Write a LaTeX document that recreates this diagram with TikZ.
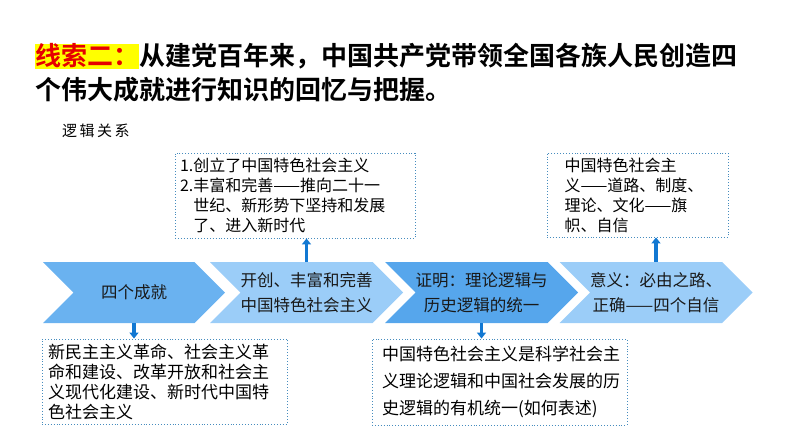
\documentclass[tikz,border=0pt]{standalone}
\usepackage{fontspec}
\setmainfont{Noto Sans CJK SC}[BoldFont={Noto Sans CJK SC Bold}]
\usepackage{xcolor}
\usepackage{tikz}
\usetikzlibrary{shapes, shapes.symbols, arrows.meta, positioning, calc}

\definecolor{chevA}{RGB}{106,178,240}
\definecolor{chevB}{RGB}{155,205,248}
\definecolor{chevC}{RGB}{86,166,236}
\definecolor{noteline}{RGB}{70,140,190}
\definecolor{arrowblue}{RGB}{18,120,210}
\definecolor{titlered}{RGB}{230,0,0}
\definecolor{hlyellow}{RGB}{255,255,0}

\newcommand{\titlefont}{\fontsize{26pt}{33pt}\selectfont\bfseries}
\newcommand{\chevfont}{\fontsize{16.5pt}{25pt}\selectfont}
\newcommand{\notefont}{\fontsize{16pt}{20pt}\selectfont}
\newcommand{\lowfont}{\fontsize{17pt}{20pt}\selectfont}

\begin{document}
\begin{tikzpicture}[x=1pt, y=-1pt]
    \tikzstyle{chev} = [signal, signal from=west, signal to=east, signal pointer angle=90,
                        minimum width=182pt, minimum height=61pt, inner sep=0pt,
                        align=center, font=\chevfont, text={black!90}]
    \tikzstyle{note} = [rectangle, draw=noteline, dotted, line width=0.9pt, inner sep=0pt,
                        align=left]
    \tikzstyle{link} = [-{Triangle[length=6pt, width=9pt]}, line width=3.5pt, draw=arrowblue]

    \useasboundingbox (0,0) rectangle (794,447);

    % heading
    \node [anchor=west, fill=hlyellow, text=titlered, inner sep=0pt, minimum height=25pt,
           font=\titlefont] (tag) at (35,56) {线索二：};
    \node [right=0pt of tag, inner sep=0pt, font=\titlefont] (head1) {从建党百年来，中国共产党带领全国各族人民创造四};
    \node [anchor=west, inner sep=0pt, font=\titlefont] (head2) at (35,90) {个伟大成就进行知识的回忆与把握。};
    \node [anchor=west, inner sep=0pt, font=\fontsize{15pt}{15pt}\selectfont] (logic) at (62,131) {逻\,辑\,关\,系};

    % chevrons
    \node [chev, fill=chevA] (four) at (134,292.5) {四个成就};
    \node [chev, fill=chevB] (found) at (306.5,292.5) {开创、丰富和完善\\中国特色社会主义};
    \node [chev, fill=chevC] (proof) at (481.5,292.5) {证明：理论逻辑与\\历史逻辑的统一};
    \node [chev, fill=chevB] (mean) at (656,292.5) {意义：必由之路、\\正确——四个自信};

    % notes
    \node [note, minimum width=240pt, minimum height=85pt, text width=230pt, font=\notefont]
        (foundnote) at (295,195.5) {1.创立了中国特色社会主义\\
        2.丰富和完善——推向二十一\\
        \phantom{2.}世纪、新形势下坚持和发展\\
        \phantom{2.}了、进入新时代};
    \node [note, minimum width=181pt, minimum height=84pt, text width=146pt, font=\notefont]
        (meannote) at (637.5,195) {中国特色社会主\\
        义——道路、制度、\\
        理论、文化——旗\\
        帜、自信};
    \node [note, minimum width=245pt, minimum height=85pt, text width=233pt, font=\lowfont]
        (fournote) at (164.5,381.5) {新民主主义革命、社会主义革\\
        命和建设、改革开放和社会主\\
        义现代化建设、新时代中国特\\
        色社会主义};
    \node [note, minimum width=255pt, minimum height=86pt, text width=235pt,
           font=\fontsize{17pt}{27pt}\selectfont]
        (proofnote) at (499.5,382) {中国特色社会主义是科学社会主\\
        义理论逻辑和中国社会发展的历\\
        史逻辑的有机统一(如何表述)};

    \draw [link] (found.north) -- (found.north |- foundnote.south);
    \draw [link] (mean.north) -- (mean.north |- meannote.south);
    \draw [link] (four.south) -- (four.south |- fournote.north);
    \draw [link] (proof.south) -- (proof.south |- proofnote.north);
\end{tikzpicture}
\end{document}
